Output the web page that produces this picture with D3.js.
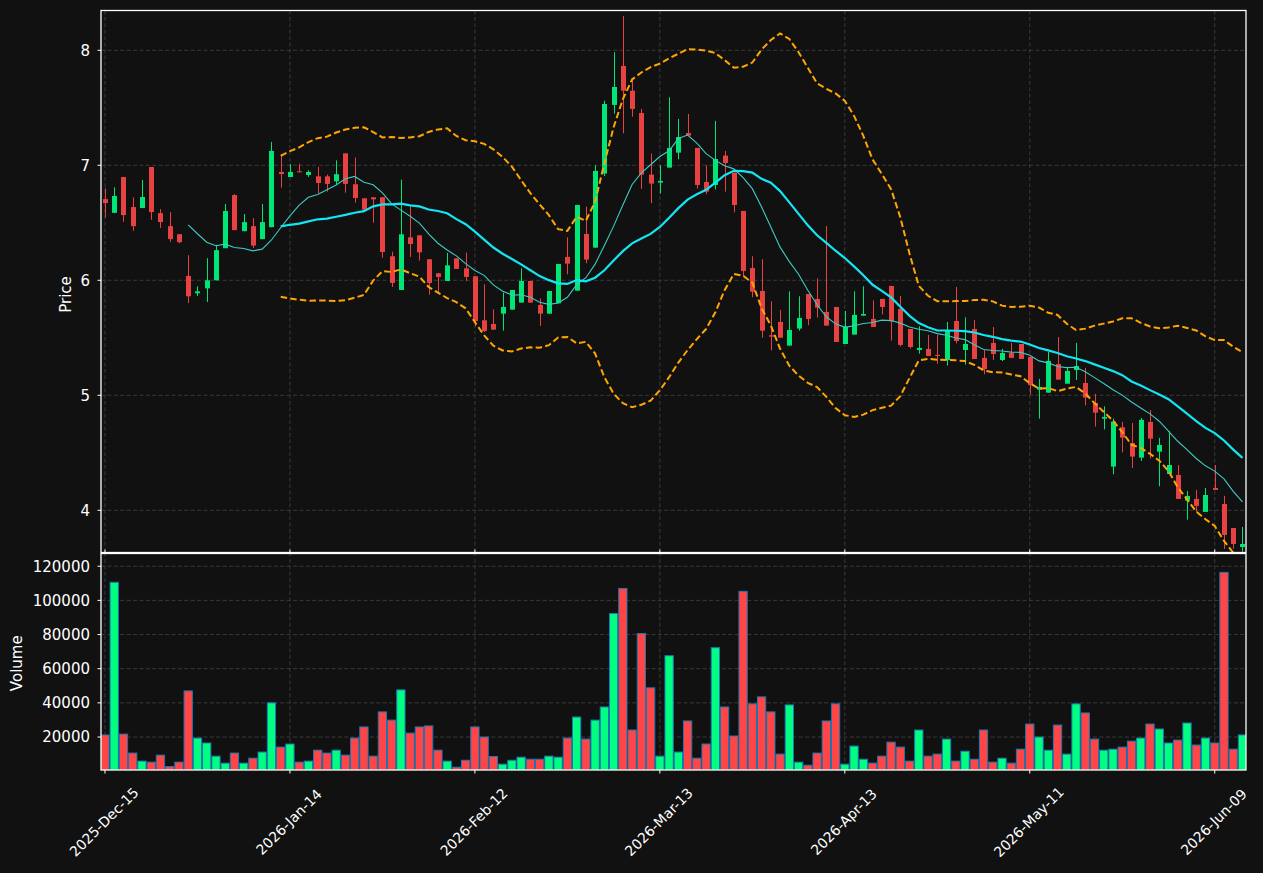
<!DOCTYPE html>
<html><head><meta charset="utf-8">
<script src="https://cdn.jsdelivr.net/npm/d3@7"></script>
<style>
body{margin:0;background:#111111;}
svg{display:block;font-family:"DejaVu Sans",sans-serif;}
</style>
</head><body>
<svg id="chart" width="1263" height="873"></svg>
<script>
// ---------------- data ----------------
const dates = [
"2025-12-15","2025-12-16","2025-12-17","2025-12-18","2025-12-19","2025-12-22","2025-12-23","2025-12-24","2025-12-26","2025-12-29","2025-12-30","2025-12-31",
"2026-01-02","2026-01-05","2026-01-06","2026-01-07","2026-01-08","2026-01-09","2026-01-12","2026-01-13","2026-01-14",
"2026-01-15","2026-01-16","2026-01-20","2026-01-21","2026-01-22","2026-01-23","2026-01-26","2026-01-27","2026-01-28","2026-01-29","2026-01-30",
"2026-02-02","2026-02-03","2026-02-04","2026-02-05","2026-02-06","2026-02-09","2026-02-10","2026-02-11","2026-02-12",
"2026-02-13","2026-02-17","2026-02-18","2026-02-19","2026-02-20","2026-02-23","2026-02-24","2026-02-25","2026-02-26","2026-02-27",
"2026-03-02","2026-03-03","2026-03-04","2026-03-05","2026-03-06","2026-03-09","2026-03-10","2026-03-11","2026-03-12","2026-03-13",
"2026-03-16","2026-03-17","2026-03-18","2026-03-19","2026-03-20","2026-03-23","2026-03-24","2026-03-25","2026-03-26","2026-03-27",
"2026-03-30","2026-03-31","2026-04-01","2026-04-02","2026-04-06","2026-04-07","2026-04-08","2026-04-09","2026-04-10","2026-04-13",
"2026-04-14","2026-04-15","2026-04-16","2026-04-17","2026-04-20","2026-04-21","2026-04-22","2026-04-23","2026-04-24",
"2026-04-27","2026-04-28","2026-04-29","2026-04-30","2026-05-01","2026-05-04","2026-05-05","2026-05-06","2026-05-07","2026-05-08","2026-05-11",
"2026-05-12","2026-05-13","2026-05-14","2026-05-15","2026-05-18","2026-05-19","2026-05-20","2026-05-21","2026-05-22",
"2026-05-26","2026-05-27","2026-05-28","2026-05-29","2026-06-01","2026-06-02","2026-06-03","2026-06-04","2026-06-05","2026-06-08","2026-06-09",
"2026-06-10","2026-06-11","2026-06-12"];

const opens = [
6.706,6.587,6.898,6.637,6.628,6.985,6.584,6.471,6.401,6.038,5.887,5.93,6.0,6.279,6.741,6.427,6.471,6.358,6.462,6.942,
6.898,6.948,6.916,6.904,6.904,6.861,7.104,6.835,6.713,6.722,6.722,6.209,5.916,6.374,6.391,6.183,6.061,5.994,6.191,6.104,
6.035,5.652,5.62,5.71,5.745,5.806,5.994,5.786,5.71,5.8,6.203,5.91,6.403,6.284,6.928,7.525,7.864,7.649,7.455,6.919,
6.849,6.98,7.11,7.281,7.151,6.855,6.829,7.084,6.936,6.603,6.107,5.907,5.522,5.638,5.432,5.58,5.881,5.838,5.725,5.768,
5.446,5.528,5.693,5.664,5.838,5.951,5.751,5.577,5.394,5.403,5.351,5.307,5.646,5.394,5.577,5.325,5.455,5.307,5.368,5.446,
5.333,5.049,5.023,5.272,5.101,5.22,5.107,4.933,4.797,4.38,4.722,4.586,4.458,4.768,4.51,4.316,4.307,4.084,4.099,3.986,
4.194,4.055,3.846,3.681];
const highs = [
6.80,6.808,6.898,6.721,6.872,6.985,6.619,6.593,6.401,6.218,5.948,6.192,6.308,6.663,6.75,6.576,6.541,6.663,7.203,7.099,
7.01,7.014,6.957,6.986,6.919,7.043,7.104,7.067,6.713,6.722,6.722,6.249,6.875,6.646,6.391,6.183,6.061,6.238,6.191,6.241,
6.035,5.965,5.748,5.893,5.916,6.104,5.994,5.841,5.907,6.142,6.374,6.655,6.641,7.0,7.562,7.983,8.299,7.751,7.49,7.101,
7.0,7.591,7.403,7.446,7.151,7.0,7.386,7.125,6.936,6.603,6.209,6.183,5.817,5.742,5.904,5.861,5.881,6.017,6.472,5.768,
5.733,5.904,5.948,5.826,5.838,5.951,5.864,5.577,5.6,5.525,5.525,5.638,5.942,5.678,5.655,5.394,5.594,5.403,5.455,5.446,
5.333,5.142,5.377,5.507,5.246,5.455,5.238,5.012,4.904,4.797,4.768,4.759,4.803,4.872,4.629,4.69,4.394,4.168,4.177,4.194,
4.394,4.125,3.846,3.855];
const lows = [
6.547,6.585,6.509,6.43,6.628,6.526,6.456,6.334,6.323,5.802,5.864,5.811,6.0,6.279,6.436,6.427,6.279,6.358,6.462,6.805,
6.898,6.939,6.899,6.759,6.771,6.835,6.762,6.675,6.614,6.501,6.197,5.942,5.916,6.203,6.171,5.875,5.896,5.994,6.099,5.994,
5.6,5.55,5.571,5.562,5.745,5.806,5.806,5.603,5.71,5.8,6.052,5.91,6.148,6.284,6.907,7.449,7.278,7.423,6.794,6.67,
6.754,6.98,7.052,7.258,6.797,6.748,6.791,6.771,6.591,6.032,5.852,5.501,5.391,5.501,5.432,5.562,5.609,5.675,5.606,5.464,
5.446,5.528,5.693,5.594,5.704,5.475,5.423,5.406,5.362,5.342,5.275,5.258,5.452,5.267,5.316,5.183,5.307,5.298,5.325,5.316,
5.006,4.797,5.023,5.136,5.101,5.133,4.913,4.728,4.704,4.313,4.504,4.368,4.429,4.449,4.209,4.316,4.099,3.919,3.986,3.986,
4.177,3.664,3.664,3.64];
const closes = [
6.672,6.733,6.567,6.471,6.724,6.593,6.506,6.358,6.331,5.861,5.904,6.0,6.262,6.602,6.436,6.506,6.302,6.506,7.125,6.924,
6.942,6.939,6.942,6.846,6.838,6.922,6.838,6.716,6.614,6.704,6.246,5.977,6.4,6.316,6.243,5.977,6.029,6.13,6.099,6.029,
5.646,5.559,5.571,5.768,5.916,5.994,5.806,5.71,5.907,6.142,6.145,6.655,6.18,6.951,7.533,7.681,7.649,7.49,6.919,6.841,
6.864,7.151,7.246,7.258,6.829,6.771,7.055,7.02,6.655,6.081,5.901,5.562,5.51,5.501,5.568,5.672,5.664,5.762,5.606,5.464,
5.597,5.699,5.707,5.594,5.768,5.641,5.438,5.42,5.412,5.342,5.342,5.559,5.472,5.446,5.316,5.229,5.359,5.368,5.325,5.316,
5.09,5.072,5.299,5.136,5.212,5.255,4.98,4.849,4.812,4.771,4.632,4.467,4.786,4.623,4.568,4.394,4.099,4.125,4.038,4.133,
4.177,3.786,3.707,3.707];
const volumes = [
21200,110600,21700,10600,5900,5300,9400,2700,5300,47000,19400,16500,8800,4700,10600,4700,7600,11200,40000,14100,
15900,5300,5900,12300,10600,12300,9400,19400,25900,8800,34700,29900,47600,22300,25900,26500,12300,5900,2300,6400,
25900,20000,8600,4100,6400,8200,7000,7000,8800,8200,19400,31700,18800,29900,37600,92300,107000,24100,80600,48800,
8800,67600,11200,29400,7600,15900,72300,37600,20600,105300,39400,43500,34700,10000,38800,5300,3500,10600,29400,39400,
4100,14700,7000,4700,8800,17000,14100,5900,24100,8800,10000,18800,5900,11700,7000,24100,5300,7600,4700,12900,
27600,20000,12300,27000,10000,39400,34100,18800,12300,12900,14100,17600,19400,27600,24700,16500,18200,28200,15300,19400,
16500,116400,12900,21200];

const priceTicks = [4, 5, 6, 7, 8];
const volumeTicks = [20000, 40000, 60000, 80000, 100000, 120000];
const tickDates = ["2025-12-15","2026-01-14","2026-02-12","2026-03-13","2026-04-13","2026-05-11","2026-06-09"];
const maShort = 10, maLong = 20, bbStd = 2;

// ---------------- layout ----------------
const W = 1263, H = 873;
const L = 101, R = 1246;
const pTop = 10.5, pBot = 552.5, vTop = 552.5, vBot = 770;
const svg = d3.select("#chart");
svg.append("rect").attr("width", W).attr("height", H).attr("fill", "#111111");

const n = closes.length;
const x = d3.scaleLinear().domain([-0.43, n - 1 + 0.38]).range([L, R]);
const yP = d3.scaleLinear().domain([3.633, 8.346]).range([pBot, pTop]);
const yV = d3.scaleLinear().domain([0.3 * d3.min(volumes), 1.1 * d3.max(volumes)]).range([vBot, vTop]);

const upC = "#00e676", dnC = "#e84141", upV = "#00ff80", dnV = "#ff4545";
const gridC = "#3a3a3a";
const parse = d3.timeParse("%Y-%m-%d"), fmt = d3.timeFormat("%Y-%b-%d");
const tickIdx = tickDates.map(d => dates.indexOf(d));

const defs = svg.append("defs");
defs.append("clipPath").attr("id", "clipP").append("rect")
  .attr("x", L).attr("y", pTop).attr("width", R - L).attr("height", pBot - pTop);
defs.append("clipPath").attr("id", "clipV").append("rect")
  .attr("x", L).attr("y", vTop).attr("width", R - L).attr("height", vBot - vTop);

// grids
const grid = svg.append("g").attr("stroke", gridC).attr("stroke-width", 1).attr("stroke-dasharray", "4,2.4");
tickIdx.forEach(i => {
  grid.append("line").attr("x1", x(i)).attr("x2", x(i)).attr("y1", pTop).attr("y2", pBot);
  grid.append("line").attr("x1", x(i)).attr("x2", x(i)).attr("y1", vTop).attr("y2", vBot);
});
priceTicks.forEach(t => grid.append("line").attr("x1", L).attr("x2", R).attr("y1", yP(t)).attr("y2", yP(t)));
volumeTicks.forEach(t => grid.append("line").attr("x1", L).attr("x2", R).attr("y1", yV(t)).attr("y2", yV(t)));

// candles
const gc = svg.append("g").attr("clip-path", "url(#clipP)");
const bw = 5;
d3.range(n).forEach(i => {
  const up = closes[i] >= opens[i];
  const c = up ? upC : dnC;
  const cx = Math.round(x(i)) + 0.5;
  gc.append("line").attr("x1", cx).attr("x2", cx).attr("y1", yP(highs[i])).attr("y2", yP(lows[i]))
    .attr("stroke", c).attr("stroke-width", 1);
  const yt = yP(Math.max(opens[i], closes[i])), yb = yP(Math.min(opens[i], closes[i]));
  gc.append("rect").attr("x", cx - bw / 2).attr("y", yt).attr("width", bw).attr("height", Math.max(1, yb - yt))
    .attr("fill", c);
});

// indicators (rolling statistics of the closes)
function sma(k) {
  return closes.map((_, i) => i < k - 1 ? null : d3.mean(closes.slice(i - k + 1, i + 1)));
}
function band(k, m, sign) {
  return closes.map((_, i) => {
    if (i < k - 1) return null;
    const s = closes.slice(i - k + 1, i + 1);
    const mu = d3.mean(s);
    const sd = Math.sqrt(d3.mean(s.map(v => (v - mu) * (v - mu))));
    return mu + sign * m * sd;
  });
}
const line = d3.line().defined(d => d[1] != null).x(d => x(d[0])).y(d => yP(d[1]));
const toPts = arr => arr.map((v, i) => [i, v]);
const gl = svg.append("g").attr("clip-path", "url(#clipP)").attr("fill", "none");
gl.append("path").attr("d", line(toPts(sma(maShort)))).attr("stroke", "#3ccbc4").attr("stroke-width", 1.1);
gl.append("path").attr("d", line(toPts(sma(maLong)))).attr("stroke", "#12e6f4").attr("stroke-width", 2.2);
gl.append("path").attr("d", line(toPts(band(maLong, bbStd, 1)))).attr("stroke", "#ffa500").attr("stroke-width", 2).attr("stroke-dasharray", "6.5,3.2");
gl.append("path").attr("d", line(toPts(band(maLong, bbStd, -1)))).attr("stroke", "#ffa500").attr("stroke-width", 2).attr("stroke-dasharray", "6.5,3.2");

// volume bars
const gv = svg.append("g").attr("clip-path", "url(#clipV)");
const vw = 8.3;
d3.range(n).forEach(i => {
  const up = closes[i] >= opens[i];
  gv.append("rect").attr("x", x(i) - vw / 2).attr("y", yV(volumes[i]))
    .attr("width", vw).attr("height", yV.range()[0] - yV(volumes[i]) + 2)
    .attr("fill", up ? upV : dnV).attr("stroke", "#1f77b4").attr("stroke-width", 1);
});

// frames
const fr = svg.append("g").attr("fill", "none").attr("stroke", "#ffffff").attr("stroke-width", 1.3);
fr.append("rect").attr("x", L).attr("y", pTop).attr("width", R - L).attr("height", pBot - pTop);
fr.append("rect").attr("x", L).attr("y", vTop + 1).attr("width", R - L).attr("height", vBot - vTop - 1);

// axes ticks + labels
const ax = svg.append("g").attr("fill", "#ffffff").attr("font-size", "15px");
const tk = svg.append("g").attr("stroke", "#ffffff").attr("stroke-width", 1);
priceTicks.forEach(t => {
  tk.append("line").attr("x1", L - 3.5).attr("x2", L).attr("y1", yP(t)).attr("y2", yP(t));
  ax.append("text").attr("x", L - 11).attr("y", yP(t)).attr("dy", "0.36em").attr("text-anchor", "end").text(d3.format("d")(t));
});
volumeTicks.forEach(t => {
  tk.append("line").attr("x1", L - 3.5).attr("x2", L).attr("y1", yV(t)).attr("y2", yV(t));
  ax.append("text").attr("x", L - 11).attr("y", yV(t)).attr("dy", "0.36em").attr("text-anchor", "end").text(d3.format("d")(t));
});
tickIdx.forEach(i => {
  tk.append("line").attr("x1", x(i)).attr("x2", x(i)).attr("y1", vBot).attr("y2", vBot + 3.5);
  tk.append("line").attr("x1", x(i)).attr("x2", x(i)).attr("y1", pBot - 3).attr("y2", pBot);
  ax.append("text").attr("transform", `translate(${x(i) - 1},822) rotate(-45)`)
    .attr("text-anchor", "middle").attr("dy", "0.35em").attr("font-size", "14px")
    .text(fmt(parse(dates[i])));
});
ax.append("text").attr("transform", `translate(66,${(pTop + pBot) / 2 + 13}) rotate(-90)`)
  .attr("text-anchor", "middle").attr("dy", "0.35em").text("Price");
ax.append("text").attr("transform", `translate(17,${(vTop + vBot) / 2 + 2}) rotate(-90)`)
  .attr("text-anchor", "middle").attr("dy", "0.35em").text("Volume");
</script>
</body></html>
